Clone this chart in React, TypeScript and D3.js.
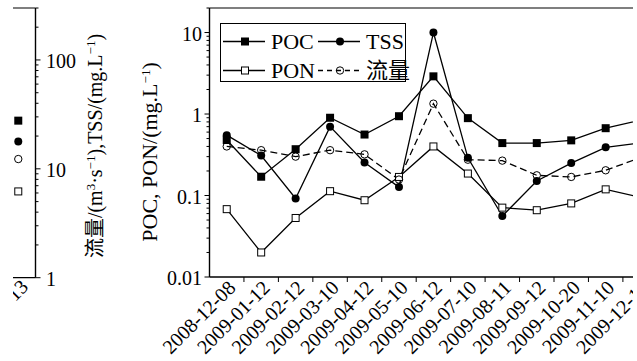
import React from "react";
import * as d3 from "d3";

const dates = [
  "2008-12-08", "2009-01-12", "2009-02-12", "2009-03-10", "2009-04-12",
  "2009-05-10", "2009-06-12", "2009-07-10", "2009-08-11", "2009-09-12",
  "2009-10-20", "2009-11-10", "2009-12-13",
];
const poc = [0.48, 0.17, 0.37, 0.9, 0.56, 0.94, 2.9, 0.89, 0.44, 0.44, 0.475, 0.67, 0.84];
const tss = [0.55, 0.31, 0.092, 0.7, 0.254, 0.127, 10, 0.29, 0.056, 0.151, 0.25, 0.39, 0.44];
const flow = [0.4, 0.36, 0.3, 0.36, 0.32, 0.157, 1.34, 0.275, 0.268, 0.177, 0.169, 0.204, 0.29];
const pon = [0.068, 0.02, 0.053, 0.113, 0.0875, 0.169, 0.4, 0.186, 0.071, 0.066, 0.08, 0.119, 0.095];

// left (cropped) panel: only last date visible
const leftDate = "2009-12-13";
const leftSeries = ["POC", "TSS", "流量", "PON"];
const leftValues = [27.7, 17.8, 12.3, 6.2];

const rightTickValues = [10, 1, 0.1, 0.01];
const rightTickLabels = ["10", "1", "0.1", "0.01"];
const leftTickValues = [100, 10, 1];
const leftTickLabels = ["100", "10", "1"];

const W = 637, H = 361;
const FONT = '"Liberation Serif", "Times New Roman", "DejaVu Serif", "Noto Sans CJK SC", serif';

function Marker({ kind, x, y }: { kind: string; x: number; y: number }) {
  if (kind === "POC") return <rect x={x - 4} y={y - 4} width={8} height={8} fill="#000" />;
  if (kind === "TSS") return <circle cx={x} cy={y} r={4} fill="#000" />;
  if (kind === "PON") return <rect x={x - 3.5} y={y - 3.5} width={7} height={7} fill="#fff" stroke="#000" strokeWidth={1} />;
  return <circle cx={x} cy={y} r={3.7} fill="none" stroke="#000" strokeWidth={1} />;
}

export default function App() {
  const top = 8, bottom = 277;
  const step = 34.45;
  const xR = d3.scaleBand<string>().domain(dates).range([209.5, 209.5 + dates.length * step]);
  const xL = d3.scaleBand<string>().domain(dates).range([35.5 - dates.length * step, 35.5]);
  const yR = d3.scaleLog().domain([0.01, 20]).range([bottom, top]);
  const yL = d3.scaleLog().domain([1, 300]).range([277.7, top]);
  const bw = xR.bandwidth();
  const cx = (d: string) => (xR(d) as number) + bw / 2;

  const series = [
    { name: "POC", values: poc, dash: undefined as string | undefined },
    { name: "TSS", values: tss, dash: undefined },
    { name: "PON", values: pon, dash: undefined },
    { name: "流量", values: flow, dash: "7,4" },
  ];
  const line = d3.line<number>().x((_, i) => cx(dates[i])).y((v) => yR(v));

  const rTicks = yR.ticks();
  const lTicks = yL.ticks();
  const isMajor = (v: number) => Math.abs(Math.log10(v) - Math.round(Math.log10(v))) < 1e-6;

  const leftAxisX = 35.5;
  const rightAxisX = 209.5;
  const clipL = 13, clipR = 633;

  const sup = { fontSize: 13 };

  return (
    <div style={{ position: "fixed", left: 0, top: 0 }}>
      <svg width={W} height={H} style={{ display: "block", background: "#fff", fontFamily: FONT }}>
        <defs>
          <clipPath id="crop">
            <rect x={clipL} y={0} width={clipR - clipL} height={H} />
          </clipPath>
        </defs>
        <g clipPath="url(#crop)">
          {/* Left cropped panel */}
          <line x1={0} x2={leftAxisX} y1={top} y2={top} stroke="#000" strokeWidth={1.2} />
          <line x1={0} x2={leftAxisX} y1={277.7} y2={277.7} stroke="#000" strokeWidth={1.2} />
          <line x1={leftAxisX} x2={leftAxisX} y1={top} y2={277.7} stroke="#000" strokeWidth={1.4} />
          {lTicks.map((t, i) => (
            <line key={i} x1={leftAxisX} x2={leftAxisX + (isMajor(t) ? 5 : 3)} y1={yL(t)} y2={yL(t)} stroke="#000" strokeWidth={1} />
          ))}
          {leftTickValues.map((t, i) => (
            <text key={i} x={46} y={yL(t)} dy="0.42em" fontSize={20} textAnchor="start">{leftTickLabels[i]}</text>
          ))}
          {leftSeries.map((s, i) => (
            <Marker key={s} kind={s} x={(xL(leftDate) as number) + xL.bandwidth() / 2} y={yL(leftValues[i])} />
          ))}
          <text
            transform={`translate(${(xL(leftDate) as number) + xL.bandwidth() / 2 + 11},${288}) rotate(-45)`}
            fontSize={20}
            textAnchor="end"
          >
            {leftDate}
          </text>
          <text transform="translate(102,146) rotate(-90)" fontSize={20} textAnchor="middle">
            流量/(m<tspan dy={-7} style={sup}>3</tspan><tspan dy={7}>·s</tspan><tspan dy={-7} style={sup}>−1</tspan><tspan dy={7}>),TSS/(mg.L</tspan><tspan dy={-7} style={sup}>−1</tspan><tspan dy={7}>)</tspan>
          </text>

          {/* Right panel */}
          <text transform="translate(157,152) rotate(-90)" fontSize={22} textAnchor="middle">
            POC, PON/(mg.L<tspan dy={-7} style={sup}>−1</tspan><tspan dy={7}>)</tspan>
          </text>
          <line x1={rightAxisX} x2={W} y1={top} y2={top} stroke="#000" strokeWidth={1.2} />
          <line x1={rightAxisX} x2={W} y1={bottom} y2={bottom} stroke="#000" strokeWidth={1.4} />
          <line x1={rightAxisX} x2={rightAxisX} y1={top} y2={bottom} stroke="#000" strokeWidth={1.4} />
          {rTicks.map((t, i) => (
            <line key={i} x1={rightAxisX - (isMajor(t) ? 5 : 3)} x2={rightAxisX} y1={yR(t)} y2={yR(t)} stroke="#000" strokeWidth={1} />
          ))}
          {rightTickValues.map((t, i) => (
            <text key={i} x={202} y={yR(t)} dy="0.42em" fontSize={20} textAnchor="end">{rightTickLabels[i]}</text>
          ))}
          {dates.slice(1).map((d) => (
            <line key={d} x1={xR(d)} x2={xR(d)} y1={bottom} y2={bottom + 5} stroke="#000" strokeWidth={1} />
          ))}
          {dates.map((d) => (
            <text key={d} transform={`translate(${cx(d) + 10},${bottom + 12}) rotate(-45)`} fontSize={20} textAnchor="end">{d}</text>
          ))}

          {series.map((s) => (
            <path key={s.name} d={line(s.values) || ""} fill="none" stroke="#000" strokeWidth={1.3} strokeDasharray={s.dash} />
          ))}
          {series.map((s) =>
            s.values.map((v, i) => <Marker key={s.name + i} kind={s.name} x={cx(dates[i])} y={yR(v)} />)
          )}

          {/* Legend */}
          <rect x={220.5} y={23.5} width={185} height={58} fill="#fff" stroke="#000" strokeWidth={1} />
          {[
            { name: "POC", x: 223, y: 41.5, dash: undefined as string | undefined },
            { name: "TSS", x: 318, y: 41.5, dash: undefined },
            { name: "PON", x: 223, y: 70.5, dash: undefined },
            { name: "流量", x: 318, y: 70.5, dash: "5,4" },
          ].map((l) => (
            <g key={l.name}>
              <line x1={l.x} x2={l.x + 42} y1={l.y} y2={l.y} stroke="#000" strokeWidth={1.3} strokeDasharray={l.dash} />
              <Marker kind={l.name} x={l.x + 22} y={l.y} />
              <text x={l.x + 48} y={l.y} dy="0.36em" fontSize={22}>{l.name}</text>
            </g>
          ))}
        </g>
      </svg>
    </div>
  );
}
